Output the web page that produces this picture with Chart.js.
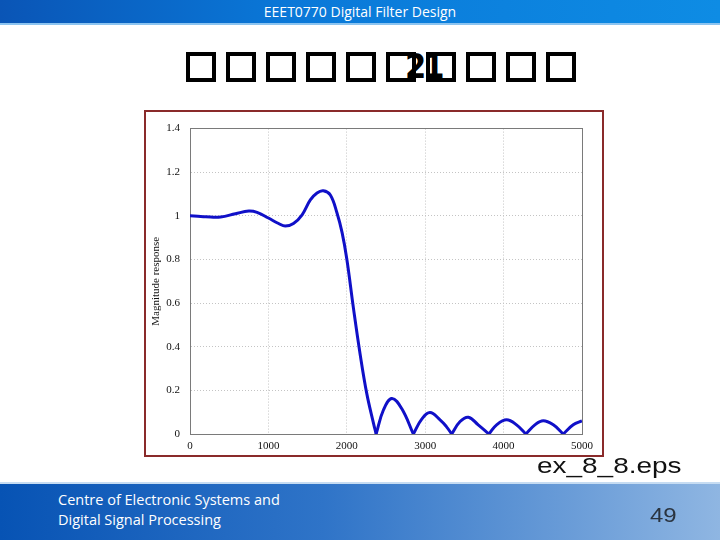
<!DOCTYPE html>
<html>
<head>
<meta charset="utf-8">
<script src="https://cdn.jsdelivr.net/npm/chart.js@4/dist/chart.umd.min.js"></script>
<style>
	html, body { margin: 0; padding: 0; }
	body { width: 720px; height: 540px; position: relative; overflow: hidden; background: #fff; }
	#header {
		position: absolute; left: 0; top: 0; width: 720px; height: 23px;
		background: linear-gradient(to right, #0a55b6 0%, #0a78d8 40%, #0e8ce4 100%);
		border-bottom: 2px solid #8cc4f0;
		color: #fff; text-align: center;
		font: 14px "Liberation Sans Narrow", "Open Sans", sans-serif; line-height: 24px;
	}
	#title {
		position: absolute; left: 186px; top: 52px; height: 32px; white-space: nowrap;
		font: bold 30px "DejaVu Sans Condensed", "DejaVu Sans", sans-serif; color: #000;
	}
	#title .g {
		display: inline-block; box-sizing: border-box; width: 30px; height: 30px;
		margin-right: 10px; border: 4px solid #000; color: transparent;
		overflow: hidden; line-height: 22px; font-size: 10px; vertical-align: top;
	}
	#title .d {
		position: absolute; left: 219px; top: -6px; z-index: 2; color: #000;
		font-size: 34px; letter-spacing: -3px;
	}
	#frame {
		position: absolute; left: 144px; top: 110px; width: 456px; height: 343px;
		border: 2px solid #8a2a2a; background: #fff;
	}
	#frame canvas { display: block; }
	#caption {
		position: absolute; left: 537px; top: 453px;
		font: 22px "Liberation Sans", Arial, sans-serif; color: #111;
		transform: scaleX(1.27); transform-origin: left top;
	}
	#footer {
		position: absolute; left: 0; top: 482px; width: 720px; height: 58px;
		background: linear-gradient(to right, #0753b4 0%, #2f74c8 45%, #6b9dd8 80%, #8fb6e2 100%);
		border-top: 2px solid #c6dcf2;
	}
	#org {
		position: absolute; left: 58px; top: 6px; color: #fff;
		font: 14.5px "Open Sans", "Noto Sans", sans-serif; line-height: 20px;
	}
	#page {
		position: absolute; left: 650px; top: 20px; color: #2a3440;
		font: 20px "Liberation Sans", Arial, sans-serif;
		transform: scaleX(1.2); transform-origin: left top;
	}
</style>
</head>
<body>
<div id="header">EEET0770 Digital Filter Design</div>
<div id="title"><span class="g">�</span><span class="g">�</span><span class="g">�</span><span class="g">�</span><span class="g">�</span><span class="g">�</span><span class="d">21</span><span class="g">�</span><span class="g">�</span><span class="g">�</span><span class="g">�</span></div>
<div id="frame"><canvas id="chart" width="456" height="343"></canvas></div>
<div id="caption">ex_8_8.eps</div>
<div id="footer">
	<div id="org">Centre of Electronic Systems and<br>Digital Signal Processing</div>
	<div id="page">49</div>
</div>
<script>
// frequency (Hz) and magnitude
const freqs = [0, 100, 200, 390, 580, 750, 855, 1000, 1130, 1215, 1320, 1430, 1535, 1620, 1700, 1790, 1875, 1940,
	2000, 2085, 2170, 2255, 2340, 2374,
	2467, 2574, 2700, 2849,
	2956, 3061, 3189, 3270, 3338,
	3445, 3551, 3676, 3813,
	3911, 4038, 4165, 4284,
	4399, 4506, 4634, 4761,
	4888, 5000];
const mags = [1.000, 0.998, 0.996, 0.995, 1.010, 1.022, 1.016, 0.990, 0.965, 0.953, 0.965, 1.005, 1.073, 1.105, 1.115, 1.096, 1.013, 0.923,
	0.802, 0.576, 0.366, 0.185, 0.050, 0.000,
	0.110, 0.163, 0.117, 0.000,
	0.068, 0.098, 0.065, 0.034, 0.000,
	0.057, 0.077, 0.042, 0.000,
	0.042, 0.065, 0.042, 0.000,
	0.042, 0.061, 0.042, 0.000,
	0.042, 0.060];

const xMin = 0, xMax = 5000, xStep = 1000;
const yMin = 0, yMax = 1.4, yStep = 0.2;
const yTitle = 'Magnitude response';

const serif = { family: '"Liberation Serif", "Times New Roman", serif', size: 11 };
const frameColor = '#7a7a7a';

// split the curve at its nulls so every null stays a sharp notch
const pieces = [];
let from = 0;
mags.forEach((m, i) => {
	if (m === 0 && i > 0) {
		pieces.push([from, i]);
		from = i;
	}
});
pieces.push([from, mags.length - 1]);

const datasets = pieces.map(([a, b]) => ({
	data: freqs.slice(a, b + 1).map((f, k) => ({ x: f, y: mags[a + k] })),
	borderColor: '#1010c8',
	borderWidth: 3,
	pointRadius: 0,
	fill: false,
	tension: 0.4
}));

new Chart(document.getElementById('chart').getContext('2d'), {
	type: 'line',
	data: { datasets },
	options: {
		responsive: false,
		animation: false,
		layout: { padding: { top: 12, right: 20, left: 0, bottom: 0 } },
		plugins: {
			legend: { display: false },
			tooltip: { enabled: false }
		},
		scales: {
			x: {
				type: 'linear',
				position: 'bottom',
				min: xMin, max: xMax,
				ticks: { stepSize: xStep, padding: 6, color: '#111', font: serif, maxRotation: 0,
					callback: v => String(v) },
				grid: { color: '#c4c4c4', drawTicks: false },
				border: { color: frameColor, width: 1, dash: [1, 2] },
				afterFit: s => { s.height = 21; }
			},
			y: {
				type: 'linear',
				position: 'left',
				min: yMin, max: yMax,
				ticks: { stepSize: yStep, padding: 10, color: '#111', font: serif,
					callback: v => String(+v.toFixed(1)) },
				grid: { color: '#c4c4c4', drawTicks: false },
				border: { color: frameColor, width: 1, dash: [1, 2] },
				title: { display: true, text: yTitle, color: '#111', font: serif, padding: { top: 4, bottom: 0 } },
				afterFit: s => { s.width = 44; }
			},
			x2: {
				type: 'linear',
				position: 'top',
				min: xMin, max: xMax,
				ticks: { display: false },
				grid: { display: false, drawTicks: false },
				border: { color: frameColor, width: 1 },
				afterFit: s => { s.height = 0; }
			},
			y2: {
				type: 'linear',
				position: 'right',
				min: yMin, max: yMax,
				ticks: { display: false },
				grid: { display: false, drawTicks: false },
				border: { color: frameColor, width: 1 },
				afterFit: s => { s.width = 0; }
			}
		}
	}
});
</script>
</body>
</html>
